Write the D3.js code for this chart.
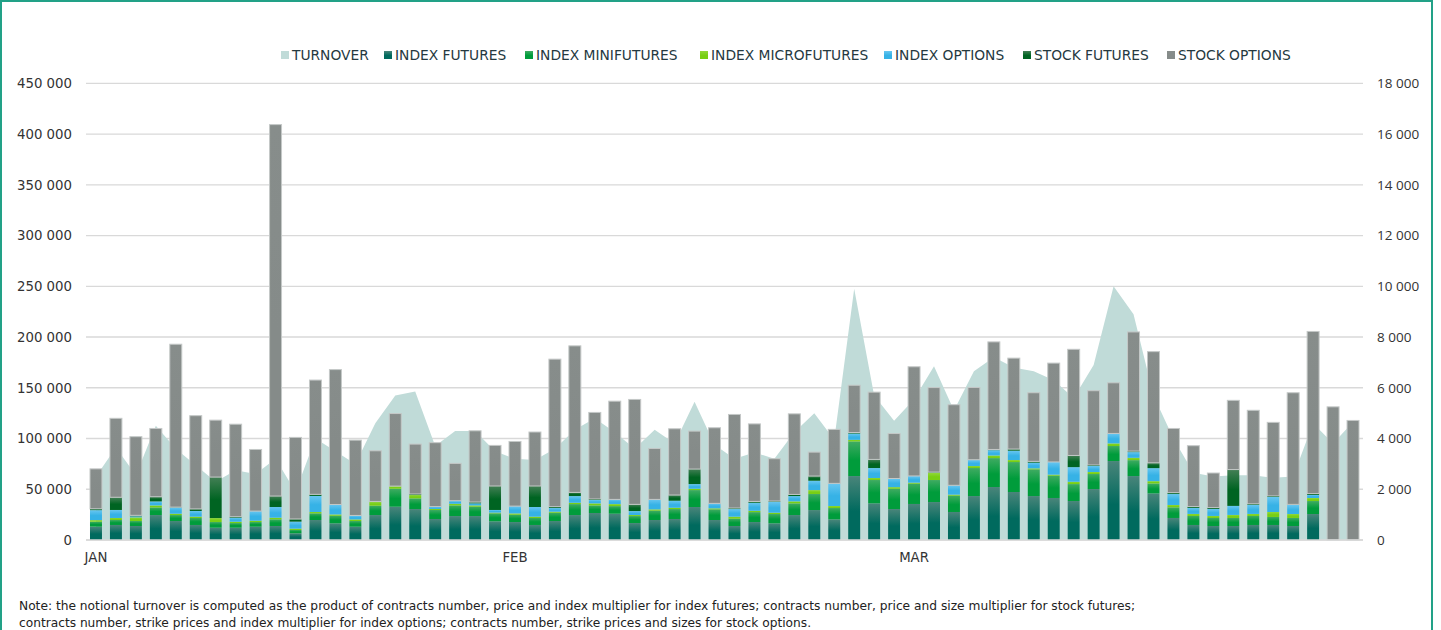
<!DOCTYPE html>
<html>
<head>
<meta charset="utf-8">
<script src="https://cdn.jsdelivr.net/npm/d3@7"></script>
<style>
body { margin: 0; background: #fff; }
</style>
</head>
<body>
<div id="chart-area"></div>
<script>
// trading days, Jan - Mar
var days = [
  "2022-01-03","2022-01-04","2022-01-05","2022-01-06","2022-01-07","2022-01-10","2022-01-11","2022-01-12","2022-01-13","2022-01-14",
  "2022-01-17","2022-01-18","2022-01-19","2022-01-20","2022-01-21","2022-01-24","2022-01-25","2022-01-26","2022-01-27","2022-01-28",
  "2022-01-31",
  "2022-02-01","2022-02-02","2022-02-03","2022-02-04","2022-02-07","2022-02-08","2022-02-09","2022-02-10","2022-02-11","2022-02-14",
  "2022-02-15","2022-02-16","2022-02-17","2022-02-18","2022-02-21","2022-02-22","2022-02-23","2022-02-24","2022-02-25","2022-02-28",
  "2022-03-01","2022-03-02","2022-03-03","2022-03-04","2022-03-07","2022-03-08","2022-03-09","2022-03-10","2022-03-11","2022-03-14",
  "2022-03-15","2022-03-16","2022-03-17","2022-03-18","2022-03-21","2022-03-22","2022-03-23","2022-03-24","2022-03-25","2022-03-28",
  "2022-03-29","2022-03-30","2022-03-31"
];
var monthNames = ["JAN", "FEB", "MAR"];

// turnover (right axis)
var turnover = [2500,3650,2550,4500,3600,2950,2300,2750,2600,3200, 1900,4000,3500,3000,4600,5700,5850,3700,4300,4300,
  3500,3200,3150,3600,4350,4800,4250,3600,4350,3800, 5450,3750,3200,3450,3200,4250,5000,3950,9900,5700,
  4700,5550,6850,5100,6650,7200,6800,6650,6300,5600, 6900,10000,8900,5700,4000,2650,2500,2550,2550,2450,
  2500,4600,3800,4650];

// contracts (left axis)
var indexFutures = [13100,14800,13800,24600,18700,14800,12100,12100,13100,13800, 6600,19700,16400,13100,24600,32800,30500,20700,23600,23600,
  18400,17700,14800,18700,24600,26600,25900,16700,19700,20700, 32500,19700,13800,17700,16400,24600,29500,20300,63000,36100,
  30500,35500,37400,27600,43300,52200,47300,43300,41400,38400, 50200,77800,63000,45900,21700,14800,13800,13800,14800,14800,
  13800,25600,0,0];
var indexMinifutures = [4900,4900,4900,7500,5900,6900,5600,4600,4600,6600, 3300,6600,7500,5600,9200,17700,10500,8900,10500,9200,
  7900,7200,6900,8200,10800,7500,7500,6900,9200,9800, 16700,10500,7200,9800,9200,11500,15800,11200,34100,23000,
  20000,20000,21700,16100,27600,28500,29500,26300,22000,16700, 14800,14800,15700,9800,10500,8900,7900,7900,8900,7900,
  7900,12800,0,0];
var indexMicrofutures = [1600,2000,3600,2000,1300,1300,3900,1300,1300,1600, 1300,1300,1300,1600,3600,2600,3300,1000,1600,1300,
  700,1300,1300,1000,1300,2000,2000,1000,1300,1300, 1300,1000,2000,1300,1300,2000,3900,2000,1600,2000,
  1600,1000,7200,1000,2000,2600,2000,1000,1000,2300, 2000,2600,2300,2300,2300,2000,2000,3000,2000,4900,
  3900,3000,0,0];
var indexOptions = [9800,7900,1000,3900,6200,5600,0,3900,9500,10500, 6900,15800,9800,3900,0,0,0,2300,3000,2000,
  2600,7200,9500,3600,6600,3300,4600,3900,9800,6900, 4600,4900,7500,7900,10800,5200,9200,22300,6200,9800,
  8500,6600,0,9200,5900,5200,9200,5600,12500,14400, 5900,9800,5600,12800,10800,5900,6900,8900,8900,14800,
  8900,3000,0,0];
var stockFutures = [1300,12500,1000,4600,300,2000,40400,1000,0,10800, 2600,1600,0,0,600,0,1000,0,0,1300,
  23600,0,20700,1300,3600,1000,0,6600,0,5600, 14800,0,1000,1300,700,1600,4600,0,1000,8500,
  0,0,600,0,300,700,1600,1300,0,11500, 1000,0,1000,5200,1300,1300,1300,35800,1000,1000,
  600,1300,0,0];
var stockOptions = [39400,77800,77500,67300,160500,91900,56100,91200,60700,366000, 80400,112600,132900,74200,49900,71500,49200,63000,36800,70200,
  40000,63700,53200,145400,144400,85300,96800,103400,50200,65300, 37400,74500,92200,76400,41700,79400,23600,53200,46600,66300,
  44300,107600,83300,79400,71200,106000,89600,67600,97400,104600, 73200,49900,117400,109600,63300,60000,34100,68200,92200,72500,
  110000,159800,131200,117800];

var leftTicks = [0,50000,100000,150000,200000,250000,300000,350000,400000,450000];
var rightTicks = [0,2000,4000,6000,8000,10000,12000,14000,16000,18000];

var keys = ["if", "imf", "imcf", "io", "sf", "so"];
var names = {turnover: "TURNOVER", if: "INDEX FUTURES", imf: "INDEX MINIFUTURES", imcf: "INDEX MICROFUTURES",
  io: "INDEX OPTIONS", sf: "STOCK FUTURES", so: "STOCK OPTIONS"};
// [top colour, base colour] of each gradient
var colors = {
  if:   ["#4a857a", "#006a5e"],
  imf:  ["#3fab62", "#009c3b"],
  imcf: ["#92d83a", "#78cf14"],
  io:   ["#68c6f0", "#36b2e6"],
  sf:   ["#437f55", "#006422"],
  so:   ["#878d8b", "#858b89"]
};

var W = 1441, H = 630;
var plotL = 86, plotR = 1363, plotT = 83.3, plotB = 540;
var legendX = [281, 384, 525, 700, 884, 1023, 1167];

var rows = days.map(function (d, i) {
  return {day: d, if: indexFutures[i], imf: indexMinifutures[i], imcf: indexMicrofutures[i],
    io: indexOptions[i], sf: stockFutures[i], so: stockOptions[i], turnover: turnover[i]};
});

var svg = d3.select("#chart-area").append("svg")
  .attr("width", W).attr("height", H)
  .style("font-family", "'DejaVu Sans', Verdana, sans-serif");

var defs = svg.append("defs");
keys.forEach(function (k) {
  var g = defs.append("linearGradient").attr("id", "grad-" + k)
    .attr("x1", 0).attr("y1", 0).attr("x2", 0).attr("y2", 1);
  g.append("stop").attr("offset", "0%").attr("stop-color", colors[k][0]);
  g.append("stop").attr("offset", "55%").attr("stop-color", colors[k][1]);
  g.append("stop").attr("offset", "100%").attr("stop-color", colors[k][1]);
});

// frame
svg.append("rect")
  .attr("x", 1).attr("y", 1).attr("width", 1431).attr("height", H + 20)
  .attr("fill", "none").attr("stroke", "#22a187").attr("stroke-width", 2);

var x = d3.scaleBand()
  .domain(d3.range(days.length))
  .range([plotL, plotR])
  .paddingInner(0.4)
  .paddingOuter(0.2);
var yL = d3.scaleLinear().domain([0, 450000]).range([plotB, plotT]);
var yR = d3.scaleLinear().domain([0, 18000]).range([plotB, plotT]);

var fmt = function (v) { return d3.format(",")(v).replace(/,/g, " "); };

// gridlines
svg.append("g").selectAll("line")
  .data(leftTicks)
  .enter().append("line")
    .attr("x1", plotL).attr("x2", plotR)
    .attr("y1", function (d) { return yL(d); })
    .attr("y2", function (d) { return yL(d); })
    .attr("stroke", "#d9d9d9").attr("stroke-width", 1.3);

// left axis
var leftAxis = d3.axisLeft(yL).tickValues(leftTicks).tickSize(0).tickPadding(0).tickFormat(fmt);
svg.append("g")
  .attr("transform", "translate(72,0)")
  .call(leftAxis)
  .call(function (g) { g.select(".domain").remove(); })
  .selectAll("text")
    .attr("font-size", "13.3px")
    .attr("font-family", "'DejaVu Sans', Verdana, sans-serif")
    .attr("fill", "#333");

// right axis
var rightAxis = d3.axisRight(yR).tickValues(rightTicks).tickSize(0).tickPadding(0).tickFormat(fmt);
svg.append("g")
  .attr("transform", "translate(1377,0)")
  .call(rightAxis)
  .call(function (g) { g.select(".domain").remove(); })
  .selectAll("text")
    .attr("font-size", "13.5px")
    .attr("font-family", "'Open Sans', sans-serif")
    .attr("fill", "#333");

// turnover area
var area = d3.area()
  .x(function (d, i) { return x(i) + x.bandwidth() / 2; })
  .y0(plotB)
  .y1(function (d) { return yR(d.turnover); });
svg.append("path")
  .datum(rows)
  .attr("d", area)
  .attr("fill", "#c0dbd8");

// stacked bars
var stacked = d3.stack().keys(keys)(rows);
var layers = svg.append("g").selectAll("g")
  .data(stacked)
  .enter().append("g")
    .attr("fill", function (d) { return "url(#grad-" + d.key + ")"; });

layers.selectAll("rect")
  .data(function (d) {
    return d.map(function (p, i) { return {i: i, y0: p[0], y1: p[1], key: d.key}; })
      .filter(function (p) { return p.y1 > p.y0; });
  })
  .enter().append("rect")
    .attr("x", function (d) { return x(d.i); })
    .attr("width", x.bandwidth())
    .attr("y", function (d) { return yL(d.y1); })
    .attr("height", function (d) { return yL(d.y0) - yL(d.y1); })
    .attr("stroke", function (d) { return d.key === "so" ? "#c4c8c7" : "none"; })
    .attr("stroke-width", 1);

// baseline
svg.append("line")
  .attr("x1", plotL).attr("x2", plotR).attr("y1", plotB).attr("y2", plotB)
  .attr("stroke", "#d9d9d9").attr("stroke-width", 1.3);

// month labels on the first trading day of each month
var firsts = [];
days.forEach(function (d, i) {
  if (i === 0 || d.slice(5, 7) !== days[i - 1].slice(5, 7)) firsts.push(i);
});
var bottomAxis = d3.axisBottom(x).tickValues(firsts).tickSize(0).tickPadding(0)
  .tickFormat(function (i) { return monthNames[+days[i].slice(5, 7) - 1]; });
svg.append("g")
  .attr("transform", "translate(0," + (plotB + 13) + ")")
  .call(bottomAxis)
  .call(function (g) { g.select(".domain").remove(); })
  .selectAll("text")
    .attr("font-size", "13.3px")
    .attr("font-family", "'DejaVu Sans', Verdana, sans-serif")
    .attr("fill", "#333");

// legend
var legendKeys = ["turnover"].concat(keys);
legendKeys.forEach(function (k, i) {
  var lx = legendX[i];
  svg.append("rect")
    .attr("x", lx).attr("y", 51).attr("width", 8).attr("height", 8)
    .attr("fill", k === "turnover" ? "#c0dbd8" : "url(#grad-" + k + ")");
  svg.append("text")
    .attr("x", lx + 11).attr("y", 60)
    .attr("font-size", "13.8px")
    .attr("fill", "#25393f")
    .text(names[k]);
});

// note
var notes = [
  "Note: the notional turnover is computed as the product of contracts number, price and index multiplier for index futures; contracts number, price and size multiplier for stock futures;",
  "contracts number, strike prices and index multiplier for index options; contracts number, strike prices and sizes for stock options."
];
var noteWidths = [1116, 792];
notes.forEach(function (s, i) {
  svg.append("text")
    .attr("x", 19).attr("y", 610 + i * 16.5)
    .attr("font-size", "12px")
    .attr("font-family", "'DejaVu Sans Condensed', 'DejaVu Sans', sans-serif")
    .attr("textLength", noteWidths[i])
    .attr("lengthAdjust", "spacingAndGlyphs")
    .attr("fill", "#222")
    .text(s);
});
</script>
</body>
</html>
